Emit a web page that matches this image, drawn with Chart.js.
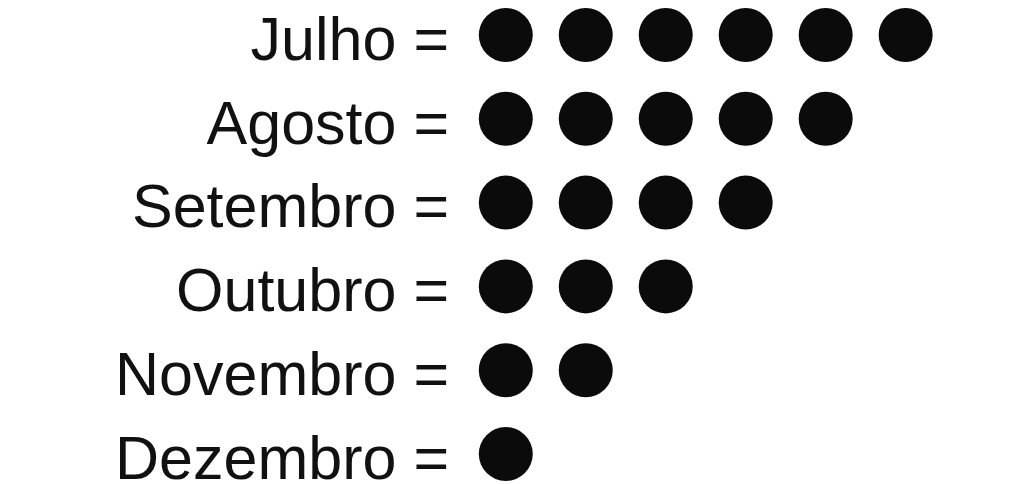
<!DOCTYPE html>
<html>
<head>
<meta charset="utf-8">
<script src="https://cdn.jsdelivr.net/npm/chart.js@4/dist/chart.umd.min.js"></script>
<style>
  html, body { margin: 0; padding: 0; background: #fff; }
  #wrap { width: 1024px; height: 484px; }
</style>
</head>
<body>
<div id="wrap"><canvas id="chart"></canvas></div>
<script>
// months and how many dots each one gets
const months = ["Julho", "Agosto", "Setembro", "Outubro", "Novembro", "Dezembro"];
const dotCounts = [6, 5, 4, 3, 2, 1];

// one point per dot
let points = [];
for (let i = 0; i < months.length; i++) {
    for (let j = 1; j <= dotCounts[i]; j++) {
        points.push({x: j, y: months[i]});
    }
}

let ctx = document.getElementById("chart").getContext("2d");
let chart = new Chart(ctx, {
    type: "scatter",
    data: {
        datasets: [{
            data: points,
            pointStyle: "circle",
            pointRadius: 27,
            pointHoverRadius: 27,
            backgroundColor: "#0b0b0b",
            borderColor: "#0b0b0b",
            borderWidth: 0,
            clip: false
        }]
    },
    options: {
        responsive: true,
        maintainAspectRatio: false,
        animation: false,
        layout: {
            autoPadding: false,
            padding: {left: 0, right: 0, top: 35, bottom: 30}
        },
        plugins: {
            legend: {display: false},
            tooltip: {enabled: false}
        },
        scales: {
            x: {
                type: "linear",
                display: false,
                min: 0.49,
                max: 7.48
            },
            y: {
                type: "category",
                labels: months,
                offset: false,
                grid: {display: false, drawTicks: false},
                border: {display: false},
                ticks: {
                    padding: 16,
                    color: "#111",
                    labelOffset: 8,
                    font: {family: "'Liberation Sans', Arial, sans-serif", size: 61},
                    callback: function (value, index) {
                        return months[index] + " =";
                    }
                },
                afterFit: function (scale) {
                    scale.width = 465;
                    scale.paddingTop = 0;
                    scale.paddingBottom = 0;
                }
            }
        }
    }
});
</script>
</body>
</html>
